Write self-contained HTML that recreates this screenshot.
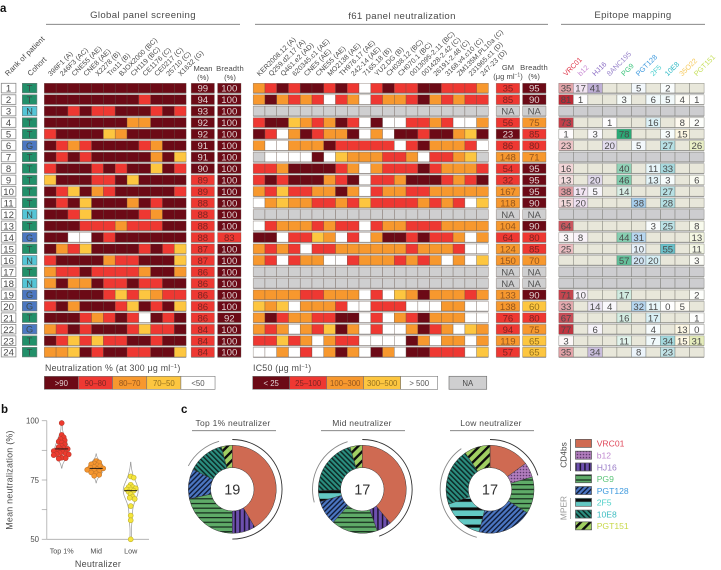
<!DOCTYPE html>
<html>
<head>
<meta charset="utf-8">
<title>Neutralization panel figure</title>
<style>
  html, body { margin: 0; padding: 0; background: #fff; }
  svg { display: block; font-family: "Liberation Sans", sans-serif; }
  text { fill: #4a4a4a; }
</style>
</head>
<body>
<svg id="fig" xmlns="http://www.w3.org/2000/svg" width="721" height="570" viewBox="0 0 721 570">
  <defs>
    <pattern id="p-b12" patternUnits="userSpaceOnUse" width="3" height="3"><rect width="3" height="3" fill="#b07cbc"/><circle cx="1.5" cy="1.5" r="0.8" fill="#5d3a6b"/></pattern>
    <pattern id="p-HJ16" patternUnits="userSpaceOnUse" width="4.6" height="4"><rect width="4.6" height="4" fill="#6d50ae"/><rect width="1.5" height="4" fill="#1d1430"/></pattern>
    <pattern id="p-PG9" patternUnits="userSpaceOnUse" width="4" height="4.7"><rect width="4" height="4.7" fill="#5fab68"/><rect width="4" height="1.2" fill="#14281a"/></pattern>
    <pattern id="p-PGT128" patternUnits="userSpaceOnUse" width="3.6" height="3.6" patternTransform="rotate(45)"><rect width="3.6" height="3.6" fill="#4b76c2"/><rect width="1.4" height="3.6" fill="#101c38"/></pattern>
    <pattern id="p-2F5" patternUnits="userSpaceOnUse" width="4" height="8.6"><rect width="4" height="8.6" fill="#63c8c3"/><rect width="4" height="3" fill="#0c0c0c"/></pattern>
    <pattern id="p-10E8" patternUnits="userSpaceOnUse" width="3.6" height="3.6" patternTransform="rotate(-45)"><rect width="3.6" height="3.6" fill="#2b8f80"/><rect width="1.5" height="3.6" fill="#0d2a26"/></pattern>
    <pattern id="p-PGT151" patternUnits="userSpaceOnUse" width="6.6" height="6.6" patternTransform="rotate(45)"><rect width="6.6" height="6.6" fill="#a0cf62"/><rect width="2.4" height="6.6" fill="#0c0c0c"/></pattern>
  </defs>

  <text x="0" y="12" font-size="11.5" font-weight="bold" style="fill:#111">a</text>
  <text x="1" y="413" font-size="11.5" font-weight="bold" style="fill:#111">b</text>
  <text x="181" y="413" font-size="11.5" font-weight="bold" style="fill:#111">c</text>

  <text x="143" y="18" font-size="9.6" letter-spacing="0.35" text-anchor="middle">Global panel screening</text>
  <line x1="46" x2="240" y1="24.3" y2="24.3" stroke="#777" stroke-width="0.8"/>
  <text x="402" y="19" font-size="9.6" letter-spacing="0.35" text-anchor="middle">f61 panel neutralization</text>
  <line x1="255" x2="548" y1="24.3" y2="24.3" stroke="#777" stroke-width="0.8"/>
  <text x="633" y="18" font-size="9.6" letter-spacing="0.35" text-anchor="middle">Epitope mapping</text>
  <line x1="561" x2="705" y1="24.3" y2="24.3" stroke="#777" stroke-width="0.8"/>

  <text x="203" y="71" font-size="7.6" text-anchor="middle">Mean</text>
  <text x="203" y="80" font-size="7.6" text-anchor="middle">(%)</text>
  <text x="230" y="71" font-size="7.6" letter-spacing="0.15" text-anchor="middle">Breadth</text>
  <text x="230" y="80" font-size="7.6" text-anchor="middle">(%)</text>
  <text x="508" y="70" font-size="7.6" text-anchor="middle">GM</text>
  <text x="508" y="79" font-size="7.6" text-anchor="middle">(μg ml<tspan font-size="5" dy="-2.6">−1</tspan><tspan dy="2.6">)</tspan></text>
  <text x="534" y="70" font-size="7.6" letter-spacing="0.15" text-anchor="middle">Breadth</text>
  <text x="534" y="79" font-size="7.6" text-anchor="middle">(%)</text>

  <text x="45" y="371" font-size="8.8" letter-spacing="0.25">Neutralization % (at 300 μg ml<tspan font-size="5.6" dy="-2.8">−1</tspan><tspan dy="2.8">)</tspan></text>
  <text x="253" y="371" font-size="8.8" letter-spacing="0.25">IC50 (μg ml<tspan font-size="5.6" dy="-2.8">−1</tspan><tspan dy="2.8">)</tspan></text>

  <text transform="translate(12.5,480) rotate(-90)" font-size="8.9" letter-spacing="0.25" text-anchor="middle">Mean neutralization (%)</text>
  <text x="98" y="567" font-size="9" letter-spacing="0.25" text-anchor="middle">Neutralizer</text>

  <text x="233" y="426" font-size="8.5" letter-spacing="0.25" text-anchor="middle">Top 1% neutralizer</text>
  <line x1="192" x2="276" y1="430.7" y2="430.7" stroke="#777" stroke-width="0.8"/>
  <text x="362" y="426" font-size="8.5" letter-spacing="0.25" text-anchor="middle">Mid neutralizer</text>
  <line x1="321" x2="405" y1="430.7" y2="430.7" stroke="#777" stroke-width="0.8"/>
  <text x="491" y="426" font-size="8.5" letter-spacing="0.25" text-anchor="middle">Low neutralizer</text>
  <line x1="450" x2="534" y1="430.7" y2="430.7" stroke="#777" stroke-width="0.8"/>

  <text transform="translate(566.5,455) rotate(-90)" font-size="8.4" text-anchor="middle">CD4bs</text>
  <line x1="570.5" x2="570.5" y1="439" y2="471" stroke="#333" stroke-width="0.7"/>
  <text transform="translate(566.5,508) rotate(-90)" font-size="8.4" text-anchor="middle" style="fill:#999">MPER</text>
  <line x1="570.5" x2="570.5" y1="498" y2="519" stroke="#999" stroke-width="0.7"/>
</svg>

<script>
// ---------- Heatmap data ----------
const rankLabels = ['1','2','3','4','5','6','7','8','9','10','11','12','13','14','15','16','17','18','19','20','21','22','23','24'];
const cohorts = ['T','T','N','T','T','G','T','T','T','T','T','N','T','G','T','N','T','N','G','G','T','G','T','T'];
const globalStrains = ['398F1 (A)','246F3 (AC)','CNE55 (AE)','CNE8 (AE)','X2278 (B)','Tro11 (B)','BJOX2000 (BC)','CH119 (BC)','CE1176 (C)','CE0217 (C)','25710 (C)','X1632 (G)'];
const f61Strains = ['KER2008.12 (A)','Q259.d2.17 (A)','Q461.e2 (AD)','620345.c1 (AE)','CNE5 (AE)','CNE55 (AE)','MO2138 (AE)','TH976.17 (AE)','242-14 (AE)','7165.18 (B)','YU2.DG (B)','CH038.12 (BC)','CH070.1 (BC)','0013095-2.11 (BC)','001428-2.42 (C)','26191-2.48 (C)','3168.v4.c10 (C)','ZM135M.PL10a (C)','231965.c1 (D)','247-23 (D)'];
const epitopeNames = ['VRC01','b12','HJ16','8ANC195','PG9','PGT128','2F5','10E8','35O22','PGT151'];
const epitopeHues = ['#b8202c','#bd7cc4','#7a5caa','#8a6cb8','#18a069','#3a8fd2','#4db7d0','#1c9dab','#f4cf5c','#b5c844'];
const epitopeLabelColors = ['#e0374a','#c88ad4','#8a6cc4','#9a86cc','#3cc47c','#3f9ade','#4fd0d0','#2cb8c4','#f6c95a','#c8e060'];
// D >90 / R 90-80 / O 80-70 / Y 70-50 / W <50 (binned neutralization)
const globalBins = ['DDDDDDDDDDDD','DDDDDDDDRDDD','DDRDRRDDDRDR','DDDDDDDOODDD','RDDDDYODDDDD','DRORDDDDRODD','DRDRDDDDDODY','RDDDRDRDDYDR','YDDDRRDYDDDD','DRYDORDDDDDR','DRDYDDDODRDD','DDRYDDDDRODD','DDDRRRORRRDD','DDWWDRDDDDDD','DORYDDDDRDRY','RDDDDORRDDDY','ORRDRRRRODDO','ODOODRRDRRDD','DDDDDRYRYORR','RDODDDRYDRDY','DDDRORDRWDRD','ORDRDDDRYRRD','DRYRYRRDDRDD','OOYDRDDRRDDY'];
// D <25 / R 25-100 / O 100-300 / Y 300-500 / W >500 / G not available (binned IC50)
const f61Bins = ['ORDRDDRDRWRDRRDDRRRO','ODORORWROWROORDORORR','GGGGGGGGGGGGGGGGGGGG','RDDYORODRWDWWRRORWWO','DRWODROODWOWDDRDDOYD','OWWOOODRRRRRWRDOOORW','GWWWWDWYOOORROWRROYG','RRODDDDROWORRRDROOOR','RDRDDDORDWRRODDDRORD','ORYRROODOWROORROOOOO','WOYOORRORYRRRRORORWY','GGGGGGGGGGGGGGGGGGGG','WROOORORRWROORRROOOO','DDWRRYOWRWODDRDRROWO','ORORWRROOOOOOROOORWW','ORWROOWWROOOROROWOWY','GGGGGGGGGGGGGGGGGGGG','GGGGGGGGGGGGGGGGGGGG','OOOORROOOWRWYODOOORO','YOYWOOORWWRRRWWWOOWW','ODROORRDDWRWORDOOOWW','OROWORYDOWRWWODROWYO','RRYROWORRWWWWDOWOOWO','WWOWRWODOWDOWDDRRRWY'];
const meanValues = [99,94,93,92,92,91,91,90,89,89,88,88,88,88,87,87,86,86,86,86,86,84,84,84];
const breadthValues = [100,100,100,100,100,100,100,100,100,100,100,100,100,83,100,100,100,100,100,100,92,100,100,100];
const gmValues = [35,85,'NA',56,23,86,148,54,32,167,118,'NA',104,64,124,150,'NA','NA',133,138,76,94,119,57];
const f61BreadthValues = [95,90,'NA',75,85,80,71,95,95,95,90,'NA',90,80,85,70,'NA','NA',90,60,80,75,65,65];
// '' = no value; 'G' = not available
const epitopeValues = [
  [35,17,41,'','',5,'',2,'',''],
  [81,1,'','',3,'',6,5,4,1],
  'G',
  [73,'','',1,'','',16,'',8,2],
  [1,'',3,'',78,'','',3,15,''],
  [23,'','',20,'',5,'',27,'',26],
  'G',
  [16,'','','',40,'',11,33,'',''],
  [13,'',20,'',46,'',13,3,'',6],
  [38,17,5,'',14,'','',27,'',''],
  [15,20,'','','',38,'',28,'',''],
  'G',
  [64,'','','','','',3,25,'',8],
  [3,8,'','',44,31,'','','',13],
  [25,'','','','',10,'',55,'',11],
  ['','','','',57,20,20,'','',3],
  'G',
  'G',
  [71,10,'','',17,'','','','',2],
  [33,'',14,4,'',32,11,0,5,''],
  [67,'','','',16,'',17,'','',1],
  [77,'',6,'','','',4,'',13,0],
  [3,'','','',11,'',7,34,15,31],
  [35,'',34,'','',8,'',23,'','']
];
const neutralLegendLabels = ['>90','90–80','80–70','70–50','<50'];
const neutralLegendBins = ['D','R','O','Y','W'];
const ic50LegendLabels = ['< 25','25–100','100–300','300–500','> 500'];
const ic50LegendBins = ['D','R','O','Y','W'];

// ---------- Panel b data ----------
const swarmCategories = ['Top 1%','Mid','Low'];
const swarmTop = [99,94,93,92.3,91.7,91.2,90.8,90,89.4,88.9,88.4,88.1,87.9,87.6,87.2,86.8,86.4,86.2,86,85.8,85.5,84.4,84.2,84];
const swarmMid = [83,82.4,82,81.6,81.2,80.8,80.5,80.2,79.9,79.6,79.3,79,78.6,78.2,77.8,77.2,76.8];
const swarmLow = [76.5,76,73,72,72,71.5,71,71,70.5,70,69,68,67.5,67,64,60,58,50];
const yTicks = [100,87.5,75,62.5,50];
const yTickLabels = ['100','','75','','50'];

// ---------- Panel c data ----------
const donutSeries = ['VRC01','b12','HJ16','PG9','PGT128','2F5','10E8','PGT151'];
const donutCounts = ['19','17','17'];
const donutNames = ['top','mid','low'];
const donutTop = [41.5,0,8.5,21.5,11,0,13.5,4];
const donutMid = [39,0,5.5,17,9,4,21,4.5];
const donutLow = [15,5.5,0,13.5,20,15.5,21,9.5];
const legendColors = ['#e0485a','#c08ad0','#9a7cc8','#5cc47a','#3f9ade','#4fd0c8','#3cbcc0','#c8d84a'];

// ---------- Helpers ----------
const NS = 'http://www.w3.org/2000/svg';
const fig = document.getElementById('fig');
function make(tag, attrs, parent, text) {
  const node = document.createElementNS(NS, tag);
  for (const key in attrs) node.setAttribute(key, attrs[key]);
  if (text !== undefined) node.textContent = text;
  (parent || fig).appendChild(node);
  return node;
}
const binFill = { D:'#6c0a16', R:'#ee3832', O:'#f7982e', Y:'#fdc640', W:'#ffffff', G:'#cfcfd0' };
const binInk  = { D:'#e0d2d2', R:'#7d2422', O:'#94561e', Y:'#94701e', W:'#555555', G:'#555555' };
const cohortFill = { T:'#22906a', N:'#55c5d6', G:'#4c78c2' };
const rowY = i => 83.3 + i * 11.48;
const rowH = 9.6;
function neutralBin(v) { if (v === 'NA') return 'G'; if (v >= 90) return 'D'; if (v >= 80) return 'R'; if (v >= 70) return 'O'; if (v >= 50) return 'Y'; return 'W'; }
function ic50Bin(v) { if (v === 'NA') return 'G'; if (v < 25) return 'D'; if (v < 100) return 'R'; if (v < 300) return 'O'; if (v < 500) return 'Y'; return 'W'; }

// ---------- Rank + cohort ----------
const rankGroup = make('g', {});


const cohortGroup = make('g', {});


rankLabels.forEach(function (label, i) {
  const box = make('rect', { x:1.3, y:rowY(i), width:14.6, height:rowH, fill:'#fff', stroke:'#8a8a8a', 'stroke-width':0.8 }, rankGroup);
  
  
  const num = make('text', { x:8.6, y:rowY(i)+8.4, 'font-size':9.6, 'text-anchor':'middle' }, rankGroup, label);
  
  
  const coh = make('rect', { x:22.3, y:rowY(i), width:14.6, height:rowH, fill:cohortFill[cohorts[i]], stroke:'#6f7a76', 'stroke-width':0.6 }, cohortGroup);
  
  
  const cohText = make('text', { x:29.6, y:rowY(i)+8.3, 'font-size':9.2, 'text-anchor':'middle', style:'fill:#3c4a48' }, cohortGroup, cohorts[i]);
  
  
});
const rankHead = make('text', { transform:'translate(8,76.5) rotate(-45)', 'font-size':7.6, 'letter-spacing':0.1 }, fig, 'Rank of patient');


const cohortHead = make('text', { transform:'translate(30.5,76.5) rotate(-45)', 'font-size':7.6, 'letter-spacing':0.1 }, fig, 'Cohort');



// ---------- Binned heatmaps ----------
function drawHeatmap(rows, labels, x0, cw, name) {
  const group = make('g', {});
  
  
  rows.forEach(function (row, i) {
    const y = rowY(i);
    const under = make('rect', { x:x0, y:y+rowH-0.1, width:cw*labels.length, height:1.1, fill:'#a9a9a9' }, group);
    
    
    row.split('').forEach(function (b, j) {
      const cell = make('rect', { x:x0+j*cw, y:y, width:cw, height:rowH, fill:binFill[b], stroke:'#5d4a40', 'stroke-opacity':0.55, 'stroke-width':0.55 }, group);
      
      
    });
  });
  labels.forEach(function (label, j) {
    const t = make('text', { transform:'translate(' + (x0+cw*j+cw*0.55) + ',76.5) rotate(-45)', 'font-size':7, 'letter-spacing':0.05 }, fig, label);
    
    
  });
}
drawHeatmap(globalBins, globalStrains, 44.3, 11.82, 'global');
drawHeatmap(f61Bins, f61Strains, 253.2, 11.76, 'f61');

// ---------- Summary value columns ----------
function drawColumn(values, binner, x, w, name) {
  const group = make('g', {});
  
  
  values.forEach(function (v, i) {
    const b = binner(v);
    const y = rowY(i);
    const under = make('rect', { x:x, y:y+rowH-0.1, width:w, height:1.1, fill:'#a9a9a9' }, group);
    
    
    const cell = make('rect', { x:x, y:y, width:w, height:rowH, fill:binFill[b], stroke:'#6a5a50', 'stroke-opacity':0.55, 'stroke-width':0.6 }, group);
    
    
    const t = make('text', { x:x+w/2, y:y+8.4, 'font-size':9.6, 'text-anchor':'middle', style:'fill:' + binInk[b] }, group, String(v));
    
    
  });
}
drawColumn(meanValues, neutralBin, 191.2, 23.2, 'mean');
drawColumn(breadthValues, neutralBin, 217.6, 23.4, 'breadth');
drawColumn(gmValues, ic50Bin, 496.2, 23.4, 'gm');
drawColumn(f61BreadthValues, neutralBin, 522.6, 23.4, 'f61-breadth');

// ---------- Epitope mapping ----------
const epiX0 = 558.8, epiW = 14.53;
const epiGroup = make('g', {});


epitopeValues.forEach(function (row, i) {
  const y = rowY(i);
  const under = make('rect', { x:epiX0, y:y+rowH-0.1, width:epiW*10, height:1.1, fill:'#a9a9a9' }, epiGroup);
  
  
  epitopeNames.forEach(function (nm, j) {
    const v = row === 'G' ? 'G' : row[j];
    const blank = v === '' || v === 'G';
    const base = make('rect', { x:epiX0+j*epiW, y:y, width:epiW, height:rowH, fill: v === 'G' ? '#cdcdd0' : (v === '' ? '#e8e7da' : '#ffffff'), stroke:'#6d6d66', 'stroke-opacity':0.65, 'stroke-width':0.6 }, epiGroup);
    
    
    if (!blank) {
      const tint = make('rect', { x:epiX0+j*epiW, y:y, width:epiW, height:rowH, fill:epitopeHues[j], 'fill-opacity':Math.min(1, v/85) }, epiGroup);
      
      
      const t = make('text', { x:epiX0+j*epiW+epiW/2, y:y+8.4, 'font-size':9.6, 'text-anchor':'middle' }, epiGroup, String(v));
      
      
    }
  });
});
epitopeNames.forEach(function (nm, j) {
  const t = make('text', { transform:'translate(' + (epiX0+epiW*j+epiW*0.5) + ',76.5) rotate(-45)', 'font-size':7.2, style:'fill:' + epitopeLabelColors[j] }, fig, nm);
  
  
});

// ---------- Heat legends ----------
function drawLegend(bins, labels, x0, w, name) {
  bins.forEach(function (b, i) {
    const r = make('rect', { x:x0+i*w, y:376.3, width:w, height:13, fill:binFill[b], stroke:'#777', 'stroke-width':0.6 });
    
    
    const t = make('text', { x:x0+i*w+w/2, y:386.2, 'font-size':7.8, 'text-anchor':'middle', style:'fill:' + binInk[b] }, fig, labels[i]);
    
    
  });
}
drawLegend(neutralLegendBins, neutralLegendLabels, 44.3, 34.15, 'neutralization');
drawLegend(ic50LegendBins, ic50LegendLabels, 252.7, 37, 'ic50');
const naBox = make('rect', { x:449, y:376.3, width:37.7, height:13, fill:binFill.G, stroke:'#777', 'stroke-width':0.7 });


const naText = make('text', { x:467.8, y:386.2, 'font-size':7.8, 'text-anchor':'middle' }, fig, 'NA');



// ---------- Panel b ----------
const yScale = v => 420.7 + (100 - v) * (539.3 - 420.7) / 50;
const xScale = i => 61.7 + i * 34.5;
const axisY = make('line', { x1:46.8, x2:46.8, y1:yScale(100), y2:yScale(50), stroke:'#aaa', 'stroke-width':0.8 });


const axisX = make('line', { x1:46.8, x2:149, y1:yScale(50), y2:yScale(50), stroke:'#aaa', 'stroke-width':0.8 });


yTicks.forEach(function (v, i) {
  const tick = make('line', { x1:41.8, x2:46.8, y1:yScale(v), y2:yScale(v), stroke:'#aaa', 'stroke-width':0.8 });
  
  
  if (yTickLabels[i]) {
    const t = make('text', { x:39, y:yScale(v)+2.8, 'font-size':7.8, 'text-anchor':'end' }, fig, yTickLabels[i]);
    
    
  }
});
function density(values, v, h) {
  let s = 0;
  values.forEach(function (d) { s += Math.exp(-0.5 * Math.pow((v - d) / h, 2)); });
  return s / values.length;
}
function drawSwarm(values, i, fill, edge, bandwidth, halfWidth) {
  const cx = xScale(i);
  const group = make('g', {});
  
  
  const lo = Math.max(50, Math.min.apply(null, values) - 2 * bandwidth);
  const hi = Math.min(100, Math.max.apply(null, values) + 2 * bandwidth);
  let peak = 0, right = [], left = [];
  for (let k = 0; k <= 60; k++) { const v = lo + (hi - lo) * k / 60; peak = Math.max(peak, density(values, v, bandwidth)); }
  for (let k = 0; k <= 60; k++) {
    const v = lo + (hi - lo) * k / 60;
    const w = halfWidth * density(values, v, bandwidth) / peak;
    right.push((cx + w).toFixed(2) + ',' + yScale(v).toFixed(2));
    left.unshift((cx - w).toFixed(2) + ',' + yScale(v).toFixed(2));
  }
  const violin = make('polygon', { points:right.concat(left).join(' '), fill:'#fff', stroke:'#999', 'stroke-width':0.7 }, group);
  
  
  const placed = [];
  const spacing = 3.1;
  values.slice().sort(function (a, b) { return b - a; }).forEach(function (v) {
    const py = yScale(v);
    let px = cx;
    for (let n = 0; n < 40; n++) {
      const off = (n % 2 ? 1 : -1) * Math.ceil(n / 2) * 1;
      const tryX = cx + off;
      if (placed.every(function (p) { return Math.hypot(p[0] - tryX, p[1] - py) >= spacing; })) { px = tryX; break; }
    }
    placed.push([px, py]);
    const dot = make('circle', { cx:px, cy:py, r:2.5, fill:fill, stroke:edge, 'stroke-width':0.6 }, group);
    
    
  });
  const sorted = values.slice().sort(function (a, b) { return a - b; });
  const median = sorted[Math.floor(sorted.length / 2)];
  const line = make('line', { x1:cx-6.5, x2:cx+6.5, y1:yScale(median), y2:yScale(median), stroke:'#111', 'stroke-width':0.9 }, group);
  
  
  const label = make('text', { x:cx, y:553.5, 'font-size':7.2, 'text-anchor':'middle' }, fig, swarmCategories[i]);
  
  
}
drawSwarm(swarmTop, 0, '#ee3a2e', '#b93a2c', 2, 7.5);
drawSwarm(swarmMid, 1, '#f6962e', '#c47a2c', 1.5, 7.5);
drawSwarm(swarmLow, 2, '#f5e53c', '#bfb232', 3, 7.5);

// ---------- Panel c ----------
const seriesFill = { 'VRC01':'#cf6a52', 'b12':'url(#p-b12)', 'HJ16':'url(#p-HJ16)', 'PG9':'url(#p-PG9)', 'PGT128':'url(#p-PGT128)', '2F5':'url(#p-2F5)', '10E8':'url(#p-10E8)', 'PGT151':'url(#p-PGT151)' };
function polar(cx, cy, r, deg) {
  const a = (deg - 90) * Math.PI / 180;
  return [cx + r * Math.cos(a), cy + r * Math.sin(a)];
}
function ringPath(cx, cy, r0, r1, a0, a1) {
  const large = a1 - a0 > 180 ? 1 : 0;
  const p1 = polar(cx, cy, r1, a0), p2 = polar(cx, cy, r1, a1), p3 = polar(cx, cy, r0, a1), p4 = polar(cx, cy, r0, a0);
  return 'M' + p1[0] + ' ' + p1[1] + 'A' + r1 + ' ' + r1 + ' 0 ' + large + ' 1 ' + p2[0] + ' ' + p2[1] +
    'L' + p3[0] + ' ' + p3[1] + 'A' + r0 + ' ' + r0 + ' 0 ' + large + ' 0 ' + p4[0] + ' ' + p4[1] + 'Z';
}
function arcPath(cx, cy, r, a0, a1) {
  const large = a1 - a0 > 180 ? 1 : 0;
  const p1 = polar(cx, cy, r, a0), p2 = polar(cx, cy, r, a1);
  return 'M' + p1[0] + ' ' + p1[1] + 'A' + r + ' ' + r + ' 0 ' + large + ' 1 ' + p2[0] + ' ' + p2[1];
}
function drawDonut(shares, idx, cx, cy) {
  const total = shares.reduce(function (a, b) { return a + b; }, 0);
  const group = make('g', {});
  
  
  let angle = 0;
  const bounds = [];
  shares.forEach(function (s, i) {
    const sweep = s / total * 360;
    bounds.push([angle, angle + sweep]);
    if (s > 0) {
      const seg = make('path', { d:ringPath(cx, cy, 21.7, 44, angle, angle + sweep), fill:seriesFill[donutSeries[i]], stroke:'#3a3a3a', 'stroke-width':0.5 }, group);
      
      
    }
    angle += sweep;
  });
  const black = make('path', { d:arcPath(cx, cy, 49.8, bounds[0][0], bounds[2][1]), fill:'none', stroke:'#333', 'stroke-width':0.9 }, group);
  
  
  const grey = make('path', { d:arcPath(cx, cy, 49.8, bounds[5][0] + 1, bounds[6][1] - 1), fill:'none', stroke:'#888', 'stroke-width':0.9 }, group);
  
  
  const count = make('text', { x:cx, y:cy+5.2, 'font-size':14.5, 'text-anchor':'middle', style:'fill:#333' }, group, donutCounts[idx]);
  
  
}
drawDonut(donutTop, 0, 232.3, 489.3);
drawDonut(donutMid, 1, 362.3, 489.3);
drawDonut(donutLow, 2, 490, 489.3);

donutSeries.forEach(function (nm, i) {
  const y = 439.4 + i * 11.78;
  const swatch = make('rect', { x:575.5, y:y, width:16, height:8, fill:seriesFill[nm], stroke:'#555', 'stroke-width':0.7 });
  
  
  const t = make('text', { x:596.7, y:y+7.3, 'font-size':8.6, style:'fill:' + legendColors[i] }, fig, nm);
  
  
});
</script>
</body>
</html>
